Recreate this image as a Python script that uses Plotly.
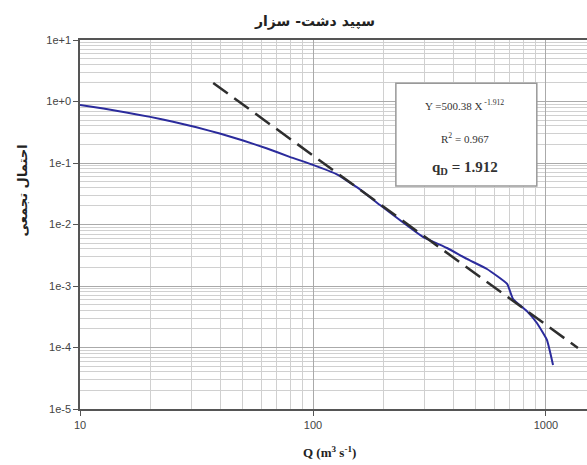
import plotly.graph_objects as go

# Data
q_obs = [10, 12.6, 15.8, 20, 25.1, 31.6, 39.8, 50.1, 63.1, 79.4, 100, 126, 158, 194,
         296, 376, 458, 558, 681, 722, 828, 914, 1009, 1072]
p_obs = [0.877, 0.767, 0.661, 0.562, 0.468, 0.380, 0.302, 0.232, 0.174, 0.126, 0.0933,
         0.066, 0.038, 0.0207, 0.0063, 0.00415, 0.00275, 0.00189, 0.00108, 0.000615,
         0.00039, 0.00025, 0.000133, 0.000052]

q_fit = [37.3, 1371]
p_fit = [2.0, 0.000098]

y_tickvals = [10, 1, 0.1, 0.01, 0.001, 0.0001, 0.00001]
y_ticktext = ["1e+1", "1e+0", "1e-1", "1e-2", "1e-3", "1e-4", "1e-5"]
x_tickvals = [10, 100, 1000]
x_ticktext = ["10", "100", "1000"]

title_text = "<b>سپید دشت- سزار</b>"
ytitle_text = "<b>احتمال تجمعی</b>"
xtitle_text = "<b>Q (m<sup>3</sup> s<sup>-1</sup>)</b>"
eq_text = "Y =500.38 X<sup> -1.912</sup>"
r2_text = "R<sup>2</sup> = 0.967"
qd_text = "<b>q<sub>D</sub> = 1.912</b>"

fig = go.Figure()
fig.add_trace(go.Scatter(x=q_obs, y=p_obs, mode="lines",
                         line=dict(color="#2b2b9c", width=2, shape="spline", smoothing=0.4),
                         showlegend=False))
fig.add_trace(go.Scatter(x=q_fit, y=p_fit, mode="lines",
                         line=dict(color="#2e2e2e", width=2.5, dash="18px,8px"), showlegend=False))

grid_minor = "#d0d0d0"
fig.update_xaxes(type="log", range=[1, 3.176],
                 tickvals=x_tickvals, ticktext=x_ticktext,
                 ticks="outside", ticklen=5, tickcolor="#555",
                 showline=True, linecolor="#555", linewidth=1.5, mirror=True,
                 showgrid=True, gridcolor="#aaaaaa", gridwidth=1,
                 minor=dict(showgrid=True, gridcolor=grid_minor, dtick="D1"),
                 tickfont=dict(family="Liberation Sans", size=11, color="#444"),
                 zeroline=False)
fig.update_yaxes(type="log", range=[-5, 1],
                 tickvals=y_tickvals, ticktext=y_ticktext,
                 ticks="outside", ticklen=5, tickcolor="#555",
                 showline=True, linecolor="#555", linewidth=1.5,
                 showgrid=True, gridcolor="#aaaaaa", gridwidth=1,
                 minor=dict(showgrid=True, gridcolor=grid_minor, dtick="D1"),
                 tickfont=dict(family="Liberation Sans", size=11, color="#444"),
                 zeroline=False)

fig.add_shape(type="rect", xref="paper", yref="paper", x0=0.623, x1=0.901, y0=0.604, y1=0.883,
              fillcolor="white", line=dict(color="#999", width=1.5), layer="above")

serif = "Liberation Serif"
anns = [
    dict(text=eq_text, x=0.759, y=0.824, font=dict(family=serif, size=11, color="#333")),
    dict(text=r2_text, x=0.759, y=0.734, font=dict(family=serif, size=11, color="#333")),
    dict(text=qd_text, x=0.759, y=0.653, font=dict(family=serif, size=15, color="#333")),
    dict(text=title_text, x=0.463, y=1.049, font=dict(family="DejaVu Sans", size=14, color="#222")),
    dict(text=xtitle_text, x=0.493, y=-0.117, font=dict(family=serif, size=13, color="#222")),
    dict(text=ytitle_text, x=-0.114, y=0.593, textangle=-90,
         font=dict(family="DejaVu Sans", size=13, color="#222")),
]
for a in anns:
    fig.add_annotation(xref="paper", yref="paper", showarrow=False,
                       xanchor="center", yanchor="middle", **a)

fig.update_layout(width=587, height=465,
                  margin=dict(l=80, r=0, t=40, b=56),
                  paper_bgcolor="white", plot_bgcolor="white")

fig.write_html("out.html")
